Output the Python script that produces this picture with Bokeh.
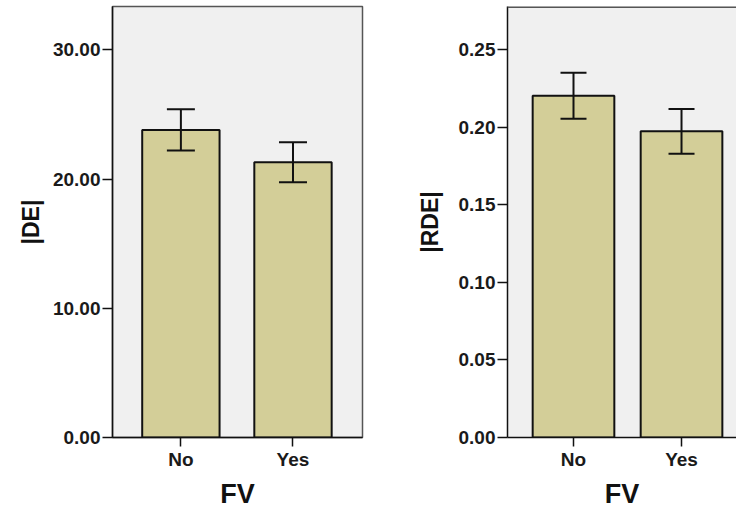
from bokeh.plotting import figure
from bokeh.models import Range1d, FixedTicker, NumeralTickFormatter, Whisker, TeeHead, ColumnDataSource, Span
from bokeh.layouts import row
from bokeh.embed import file_html
from bokeh.resources import INLINE

categories = ["No", "Yes"]
de_mean = [23.8, 21.3]
de_lower = [22.2, 19.75]
de_upper = [25.4, 22.85]
rde_mean = [0.2205, 0.1975]
rde_lower = [0.2056, 0.1830]
rde_upper = [0.2353, 0.2119]
de_ticks = [0, 10, 20, 30]
rde_ticks = [0, 0.05, 0.10, 0.15, 0.20, 0.25]

FONT = "Liberation Sans"
BAR = "#D3CE98"
BG = "#F0F0F0"
H = 518


def make(width, xr, yr, means, lo, hi, yticks, ylabel, bar_w, head, min_left, min_right, ylabel_standoff, outline):
    xs = [i + 0.5 for i in range(len(categories))]
    src = ColumnDataSource(dict(x=xs, top=means, lower=lo, upper=hi))
    p = figure(width=width, height=H, x_range=Range1d(*xr), y_range=Range1d(*yr),
               output_backend="svg", toolbar_location=None,
               min_border_left=min_left, min_border_right=min_right,
               min_border_top=6, min_border_bottom=81)
    p.background_fill_color = BG
    p.border_fill_color = "white"
    p.xgrid.visible = False
    p.ygrid.visible = False
    if outline:
        p.outline_line_color = "#555555"
        p.outline_line_width = 1.5
    else:
        p.outline_line_color = None
        p.add_layout(Span(location=yr[1], dimension="width", line_color="#555555", line_width=3))
    p.vbar(x="x", top="top", bottom=0, width=bar_w, source=src,
           fill_color=BAR, line_color="#111111", line_width=2)
    w = Whisker(base="x", upper="upper", lower="lower", source=src,
                line_color="#111111", line_width=2, level="overlay",
                upper_head=TeeHead(size=head, line_color="#111111", line_width=2),
                lower_head=TeeHead(size=head, line_color="#111111", line_width=2))
    p.add_layout(w)

    p.xaxis.ticker = FixedTicker(ticks=xs)
    p.xaxis.major_label_overrides = {x: c for x, c in zip(xs, categories)}
    p.xaxis.axis_label = "FV"
    p.yaxis.ticker = FixedTicker(ticks=yticks)
    p.yaxis.formatter = NumeralTickFormatter(format="0.00")
    p.yaxis.axis_label = ylabel
    for ax in (p.xaxis[0], p.yaxis[0]):
        ax.axis_line_color = "#111111"
        ax.axis_line_width = 1.5
        ax.major_tick_line_color = "#111111"
        ax.major_tick_line_width = 1.5
        ax.major_tick_in = 0
        ax.minor_tick_line_color = None
        ax.major_label_text_font = FONT
        ax.major_label_text_font_size = "19px"
        ax.major_label_text_font_style = "bold"
        ax.major_label_text_color = "#1a1a1a"
        ax.axis_label_text_font = FONT
        ax.axis_label_text_font_style = "bold"
        ax.axis_label_text_color = "#111111"
    p.xaxis.major_tick_out = 9
    p.yaxis.major_tick_out = 10
    p.xaxis.major_label_standoff = 2
    p.yaxis.major_label_standoff = 2
    p.xaxis.axis_label_text_font_size = "27px"
    p.yaxis.axis_label_text_font_size = "23px"
    p.xaxis.axis_label_standoff = 6
    p.yaxis.axis_label_standoff = ylabel_standoff
    return p


p1 = make(370, (-0.11, 2.12), (0, 33.35), de_mean, de_lower, de_upper, de_ticks, "|DE|",
          0.69, 28, 112, 8, 6, True)
p2 = make(366, (-0.111, 2.009), (0, 0.278), rde_mean, rde_lower, rde_upper, rde_ticks, "|RDE|",
          0.756, 26, 137, 0, 13, False)

layout = row(p1, p2, spacing=0)
open("out.html", "w").write(file_html(layout, INLINE))
